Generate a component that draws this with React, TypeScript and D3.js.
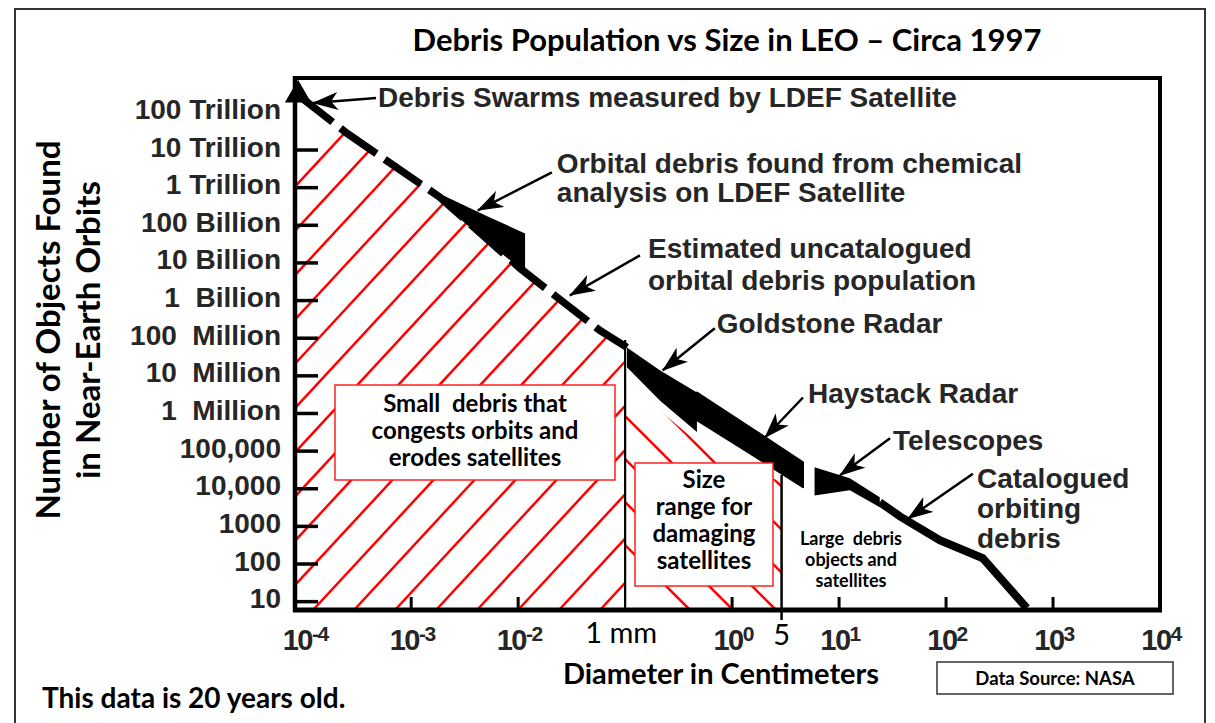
import * as d3 from 'd3';

const ARIAL = '"Liberation Sans", Arial, sans-serif';
const CALIBRI = 'Lato, "Open Sans", sans-serif';

// y axis (number of objects)
const yTickValues = [1e14, 1e13, 1e12, 1e11, 1e10, 1e9, 1e8, 1e7, 1e6, 1e5, 1e4, 1e3, 1e2, 1e1];
const yTickLabels = [
  '100 Trillion', '10 Trillion', '1 Trillion', '100 Billion', '10 Billion', '1  Billion',
  '100  Million', '10  Million', '1  Million', '100,000', '10,000', '1000', '100', '10',
];

// x axis (diameter, cm)
const xDecades = [-4, -3, -2, 0, 1, 2, 3, 4];
const sizeBounds = [0.1, 2.9];
const sizeBoundLabels = ['1 mm', '5'];

// estimated uncatalogued population (dashed)
const estDiam = [8.75e-5, 2.5e-4, 1.85e-3, 0.0104, 0.058, 0.104];
const estCount = [2.9e14, 2.8e13, 5.6e11, 7.2e9, 1.6e8, 5.7e7];

// measured bands: diameter, upper count, lower count
const ldefDiam = [1.98e-3, 4.9e-3, 0.0116];
const ldefHigh = [6.3e11, 1.85e11, 6.1e10];
const ldefLow = [3.6e11, 4.0e10, 5.7e9];

const goldDiam = [0.104, 0.211, 0.469];
const goldHigh = [5.7e7, 1.4e7, 3.6e6];
const goldLow = [1.7e7, 2.2e6, 3.2e5];

const hayDiam = [0.469, 1.47, 4.6];
const hayHigh = [3.6e6, 4.3e5, 5.0e4];
const hayLow = [6.6e5, 8.7e4, 1.1e4];

const telDiam = [5.9, 12.6, 24];
const telHigh = [3.7e4, 1.9e4, 5.9e3];
const telLow = [6.6e3, 9.1e3, 3.2e3];

// catalogued orbiting debris
const catDiam = [24, 37, 87.5, 221, 569];
const catCount = [4.4e3, 1.85e3, 427, 142, 6.7];

// LDEF debris swarm point
const swarmDiam = 8.75e-5;
const swarmCount = 2.9e14;

// annotations
const annText = [
  ['Debris Swarms measured by LDEF Satellite'],
  ['Orbital debris found from chemical', 'analysis on LDEF Satellite'],
  ['Estimated uncatalogued', 'orbital debris population'],
  ['Goldstone Radar'],
  ['Haystack Radar'],
  ['Telescopes'],
  ['Catalogued', 'orbiting', 'debris'],
];
const annTipDiam = [1.21e-4, 4.2e-3, 0.0305, 0.225, 2.03, 10.2, 44];
const annTipCount = [1.78e14, 2.5e11, 1.38e9, 1.4e7, 2.3e5, 2.27e4, 1.6e3];
// pixel offsets from the tip: arrow tail, text start, line height
const annLayout = [
  { tail: [63, -5], text: [65, 4], lh: 29 },
  { tail: [74, -38], text: [79, -37], lh: 29 },
  { tail: [70, -40], text: [78, -37], lh: 32 },
  { tail: [52, -42], text: [54, -37], lh: 30 },
  { tail: [38, -40], text: [43, -34], lh: 30 },
  { tail: [50, -37], text: [53, -25], lh: 30 },
  { tail: [65, -45], text: [69, -31], lh: 30 },
];

const smallBoxText = ['Small  debris that', 'congests orbits and', 'erodes satellites'];
const sizeBoxText = ['Size', 'range for', 'damaging', 'satellites'];
const largeText = ['Large  debris', 'objects and', 'satellites'];

const x = d3.scaleLog().domain([8.2e-5, 1e4]).range([295, 1160]);
const y = d3.scaleLog().domain([6, 8.2e14]).range([610, 78]);

const band = (ds: number[], hi: number[], lo: number[]) =>
  d3.area<number>()
    .x(d => x(d))
    .y0((_, i) => y(lo[i]))
    .y1((_, i) => y(hi[i]))(ds) || '';

export default function App() {
  const [x0, x1] = x.range();
  const [yb, yt] = y.range();
  const xmm = x(sizeBounds[0]);
  const x5 = x(sizeBounds[1]);

  const estPts: [number, number][] = estDiam.map((d, i) => [x(d), y(estCount[i])]);
  const leftClip = [[x0, estPts[0][1]], ...estPts, [estPts[estPts.length - 1][0], yb], [x0, yb]];

  const lowEdge: [number, number][] = [
    ...goldDiam.map((d, i) => [x(d), y(goldLow[i]) + 10] as [number, number]),
    ...hayDiam.map((d, i) => [x(d), y(hayLow[i]) + 10] as [number, number]),
  ];
  const rightClip = [[xmm - 5, lowEdge[0][1]], ...lowEdge, [lowEdge[lowEdge.length - 1][0], yb], [xmm - 5, yb]];

  // hatch patterns
  const slashes = d3.range(-9, 9).map(k => 272 + 41 * k);
  const backs = d3.range(0, 7).map(k => 690 + 43 * k);

  const line = d3.line();
  const swarm = d3.symbol(d3.symbolTriangle, 300)() || '';

  return (
    <svg width={1215} height={723} style={{ position: 'absolute', left: 0, top: 0, background: '#fff' }}>
      <defs>
        <clipPath id="leftRect"><rect x={x0} y={yt} width={xmm - x0} height={yb - yt} /></clipPath>
        <clipPath id="leftPoly"><polygon points={leftClip.map(p => p.join(',')).join(' ')} /></clipPath>
        <clipPath id="rightRect"><rect x={xmm} y={yt} width={x5 - xmm} height={yb - yt} /></clipPath>
        <clipPath id="rightPoly"><polygon points={rightClip.map(p => p.join(',')).join(' ')} /></clipPath>
        <marker id="arrow" viewBox="0 0 26 18" refX={25} refY={9} markerWidth={26} markerHeight={18}
          markerUnits="userSpaceOnUse" orient="auto">
          <path d="M0,0 L26,9 L0,18 L7,9 Z" fill="#000" />
        </marker>
      </defs>

      <rect x={15} y={9} width={1190} height={740} fill="#fff" stroke="#333" strokeWidth={2} />

      {/* title */}
      <text x={727} y={51} textAnchor="middle" fontFamily={CALIBRI} fontWeight={700} fontSize={31} fill="#000">
        Debris Population vs Size in LEO – Circa 1997
      </text>

      {/* hatching */}
      <g clipPath="url(#leftRect)">
        <g clipPath="url(#leftPoly)">
          {slashes.map(b => (
            <line key={b} x1={b} y1={yb} x2={b + 600} y2={yb - 600 * 1.08} stroke="#ff0000" strokeWidth={2.5} />
          ))}
        </g>
      </g>
      <g clipPath="url(#rightRect)">
        <g clipPath="url(#rightPoly)">
          {backs.map(b => (
            <line key={b} x1={b} y1={yb} x2={b - 400} y2={yb - 400} stroke="#ff0000" strokeWidth={2.5} />
          ))}
        </g>
      </g>

      {/* size boundaries */}
      <line x1={xmm} x2={xmm} y1={340} y2={yb} stroke="#000" strokeWidth={2.2} />
      <line x1={x5} x2={x5} y1={475} y2={620} stroke="#000" strokeWidth={2.5} />

      {/* data */}
      <path d={line(estPts) || ''} fill="none" stroke="#000" strokeWidth={7.5} strokeDasharray="44 10" />
      <path d={band(ldefDiam, ldefHigh, ldefLow)} fill="#000" />
      <path d={band(goldDiam, goldHigh, goldLow)} fill="#000" />
      <path d={band(hayDiam, hayHigh, hayLow)} fill="#000" stroke="#000" strokeWidth={2} strokeLinejoin="round" />
      <path d={band(telDiam, telHigh, telLow)} fill="#000" />
      <path d={line(catDiam.map((d, i) => [x(d), y(catCount[i])])) || ''} fill="none" stroke="#000"
        strokeWidth={8} strokeLinejoin="round" />
      <path d={swarm} transform={`translate(${x(swarmDiam)},${y(swarmCount)})`} fill="#000" />

      {/* frame */}
      <line x1={x0} x2={x1} y1={yt} y2={yt} stroke="#000" strokeWidth={4} />
      <line x1={x1} x2={x1} y1={yt - 2} y2={yb} stroke="#000" strokeWidth={4} />
      <line x1={x0} x2={x0} y1={yt - 2} y2={yb + 2} stroke="#000" strokeWidth={4.5} />
      <line x1={x0 - 2} x2={x1 + 2} y1={yb} y2={yb} stroke="#000" strokeWidth={5} />

      {/* y ticks */}
      {yTickValues.slice(1).map(v => (
        <line key={v} x1={x0} x2={x0 + 23} y1={y(v)} y2={y(v)} stroke="#000" strokeWidth={3.5} />
      ))}
      {yTickValues.map((v, i) => (
        <text key={v} x={281} y={y(v) - 3} dominantBaseline="central" textAnchor="end" fontFamily={ARIAL}
          fontWeight={700} fontSize={28} fill="#262626" style={{ whiteSpace: 'pre' }}>
          {yTickLabels[i]}
        </text>
      ))}

      {/* x ticks */}
      {xDecades.filter(e => e > -4 && e < 4).map(e => (
        <line key={e} x1={x(10 ** e)} x2={x(10 ** e)} y1={yb} y2={yb - 13} stroke="#000" strokeWidth={3} />
      ))}
      {xDecades.map(e => (
        <text key={e} x={x(10 ** e) + 1} y={650} textAnchor="middle" fontFamily={ARIAL} fontSize={29}
          fontWeight={700} fill="#262626" letterSpacing={-1.5}>
          10<tspan fontSize={21} dy={-9}>{e}</tspan>
        </text>
      ))}
      {sizeBounds.map((v, i) => (
        <text key={v} x={x(v) - (i === 0 ? 4 : 0)} y={643 + i * 2} textAnchor="middle" fontFamily={CALIBRI}
          fontSize={29} fill="#000">
          {sizeBoundLabels[i]}
        </text>
      ))}

      {/* axis titles */}
      <text transform="translate(60,330) rotate(-90)" textAnchor="middle" fontFamily={CALIBRI} fontWeight={700}
        fontSize={33} fill="#000">Number of Objects Found</text>
      <text transform="translate(100,330) rotate(-90)" textAnchor="middle" fontFamily={CALIBRI} fontWeight={700}
        fontSize={33} fill="#000">in Near-Earth Orbits</text>
      <text x={721} y={684} textAnchor="middle" fontFamily={CALIBRI} fontWeight={700} fontSize={29} fill="#000">
        Diameter in Centimeters
      </text>

      {/* region boxes */}
      <rect x={335} y={385} width={280} height={95} fill="#fff" stroke="#ff2020" strokeWidth={1.5} />
      {smallBoxText.map((t, i) => (
        <text key={t} x={475} y={412 + i * 27} textAnchor="middle" fontFamily={CALIBRI} fontWeight={700}
          fontSize={24} fill="#000" style={{ whiteSpace: 'pre' }}>{t}</text>
      ))}
      <rect x={635} y={463} width={138} height={123} fill="#fff" stroke="#ff2020" strokeWidth={1.5} />
      {sizeBoxText.map((t, i) => (
        <text key={t} x={704} y={488 + i * 27} textAnchor="middle" fontFamily={CALIBRI} fontWeight={700}
          fontSize={24} fill="#000">{t}</text>
      ))}
      {largeText.map((t, i) => (
        <text key={t} x={851} y={545 + i * 21} textAnchor="middle" fontFamily={CALIBRI} fontWeight={700}
          fontSize={18} fill="#000" style={{ whiteSpace: 'pre' }}>{t}</text>
      ))}

      {/* annotations */}
      {annText.map((lines, i) => {
        const tx = x(annTipDiam[i]);
        const ty = y(annTipCount[i]);
        const L = annLayout[i];
        return (
          <g key={i}>
            <line x1={tx + L.tail[0]} y1={ty + L.tail[1]} x2={tx} y2={ty} stroke="#000" strokeWidth={2.5}
              markerEnd="url(#arrow)" />
            {lines.map((t, j) => (
              <text key={t} x={tx + L.text[0]} y={ty + L.text[1] + j * L.lh} fontFamily={ARIAL} fontWeight={700}
                fontSize={28} fill="#262626">{t}</text>
            ))}
          </g>
        );
      })}

      {/* footer */}
      <text x={42} y={708} fontFamily={CALIBRI} fontWeight={700} fontSize={28} fill="#000">This data is 20 years old.</text>
      <rect x={937} y={662} width={236} height={32} fill="#fff" stroke="#333" strokeWidth={1.5} />
      <text x={1055} y={685} textAnchor="middle" fontFamily={CALIBRI} fontWeight={700} fontSize={18.5} fill="#000">
        Data Source: NASA
      </text>
    </svg>
  );
}
